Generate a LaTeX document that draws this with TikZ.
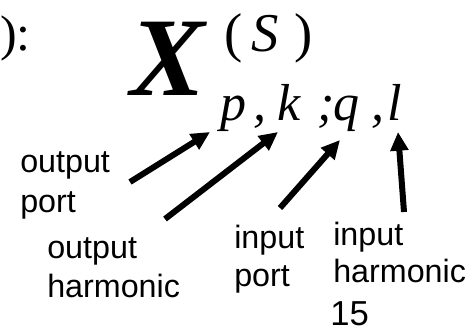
\documentclass[tikz,border=0pt]{standalone}
\usepackage{fontspec}
\setmainfont{Liberation Serif}
\setsansfont{Liberation Sans}
\usetikzlibrary{arrows.meta}
\begin{document}
\begin{tikzpicture}[x=0.75pt,y=-0.75pt,
  lbl/.style={anchor=base west,inner sep=0pt,font=\sffamily\fontsize{24.2}{28}\selectfont},
  sub/.style={anchor=base west,inner sep=0pt,font=\itshape\fontsize{39}{42}\selectfont},
  arr/.style={line width=4.5pt,-{Triangle[length=14pt,width=13pt]}}]
\useasboundingbox (0,0) rectangle (473,332);
% equation
\node[anchor=base west,inner sep=0pt,font=\fontsize{37.5}{40}\selectfont] (colon) at (0,50) {):};
\node[anchor=base west,inner sep=0pt,font=\bfseries\itshape\fontsize{84}{88}\selectfont] (X) at (130,95) {X};
\node[anchor=base west,inner sep=0pt,font=\fontsize{41}{44}\selectfont] (S) at (224,51) {(\hspace{6.75pt}\textit{S}\hspace{11.6pt})};
\node[sub] (p) at (220,120) {p};
\node[sub] (c1) at (253,120) {,};
\node[sub] (k) at (277,120) {k};
\node[sub] (sc) at (317,120) {;};
\node[sub] (q) at (333,120) {q};
\node[sub] (c2) at (371,120) {,};
\node[sub] (l) at (387,120) {l};
% labels
\node[lbl] (op1) at (20,172) {output};
\node[lbl] (op2) at (20,212) {port};
\node[lbl] (oh1) at (47,258) {output};
\node[lbl] (oh2) at (47,297) {harmonic};
\node[lbl] (ip1) at (234,248) {input};
\node[lbl] (ip2) at (234,286) {port};
\node[lbl] (ih1) at (333,245) {input};
\node[lbl] (ih2) at (333,282) {harmonic};
\node[anchor=base west,inner sep=0pt,font=\sffamily\fontsize{26}{28}\selectfont] (num) at (330,325) {15};
% arrow ends
\coordinate (a1s) at (130,182); \coordinate (a1e) at (210,132);
\coordinate (a2s) at (165,219); \coordinate (a2e) at (278,132);
\coordinate (a3s) at (280,208); \coordinate (a3e) at (340,140);
\coordinate (a4s) at (404,212); \coordinate (a4e) at (398,132);
\draw[arr] (a1s) -- (a1e);
\draw[arr] (a2s) -- (a2e);
\draw[arr] (a3s) -- (a3e);
\draw[arr] (a4s) -- (a4e);
\end{tikzpicture}
\end{document}
